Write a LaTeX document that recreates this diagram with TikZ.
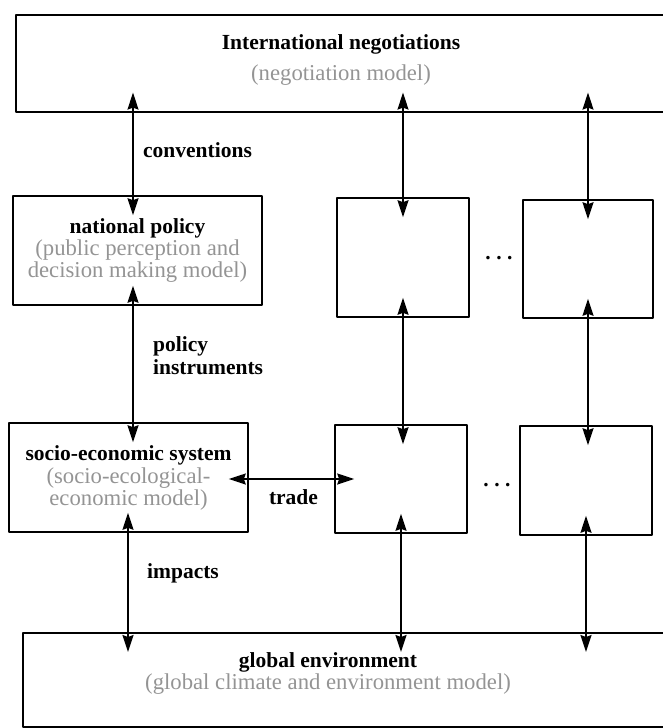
\documentclass[tikz,border=0pt]{standalone}
\usepackage{fontspec}
\setmainfont{Liberation Serif}
\usetikzlibrary{arrows.meta}
\definecolor{subgray}{gray}{0.58}
\newcommand{\headtxt}{\fontsize{21.5}{22}\selectfont\bfseries\color{black}}
\newcommand{\subtxt}{\fontsize{22.7}{22}\selectfont\mdseries\color{subgray}}
\tikzset{
  box/.style={draw,line width=1.6pt,inner sep=0pt},
  txt/.style={inner sep=0pt,align=center},
  lbl/.style={inner sep=0pt,font=\headtxt},
  link/.style={{Stealth[length=17pt,width=11pt,inset=2pt]}-{Stealth[length=17pt,width=11pt,inset=2pt]},line width=1.6pt,shorten <=-20pt,shorten >=-20pt},
}
\begin{document}
\begin{tikzpicture}[x=1pt,y=-1pt,line join=round]
\useasboundingbox (0,0) rectangle (662,728);
% top and bottom boxes
\node[box,minimum width=660pt,minimum height=97pt,anchor=north west] (intl) at (15,14) {};
\node[txt] (intltxt) at (341,60) {\headtxt International negotiations\\[10pt]\subtxt (negotiation model)};
\node[box,minimum width=660pt,minimum height=94pt,anchor=north west] (env) at (22,632) {};
\node[txt] (envtxt) at (328,673.5) {\headtxt global environment\\[1pt]\subtxt (global climate and environment model)};
% national level
\node[box,txt,minimum width=249pt,minimum height=109pt] (np) at (137.5,250.5) {\headtxt national policy\\[1pt]\subtxt (public perception and\\\subtxt decision making model)};
\node[box,minimum width=132pt,minimum height=119pt] (mid1) at (403,257.5) {};
\node[box,minimum width=130pt,minimum height=118pt] (right1) at (588,259) {};
\node[box,txt,minimum width=239pt,minimum height=109pt] (se) at (128.5,477.5) {\headtxt socio-economic system\\[2pt]\subtxt (socio-ecological-\\\subtxt economic model)};
\node[box,minimum width=132pt,minimum height=108pt] (mid2) at (401,479) {};
\node[box,minimum width=132pt,minimum height=109pt] (right2) at (586,480.5) {};
\node[lbl] (dots1) at (499,258) {.\hspace{5.5pt}.\hspace{5.5pt}.};
\node[lbl] (dots2) at (497,485) {.\hspace{5.5pt}.\hspace{5.5pt}.};
% links
\coordinate (npcol) at ([xshift=-4.5pt]np.north);
\coordinate (secol) at ([xshift=-0.5pt]se.south);
\coordinate (serow) at ([yshift=-1.5pt]se.east);
\draw[link] (npcol |- intl.south) -- (npcol);
\draw[link] (mid1.north |- intl.south) -- (mid1.north);
\draw[link] (right1.north |- intl.south) -- (right1.north);
\draw[link] (npcol |- np.south) -- (npcol |- se.north);
\draw[link] (mid1.south) -- (mid1.south |- mid2.north);
\draw[link] (right1.south) -- (right1.south |- right2.north);
\draw[link] (secol) -- (secol |- env.north);
\draw[link] (mid2.south) -- (mid2.south |- env.north);
\draw[link] (right2.south) -- (right2.south |- env.north);
\draw[link] (serow) -- (serow -| mid2.west);
% labels
\node[lbl,anchor=west] (conv) at (143,150) {conventions};
\node[lbl,anchor=west,align=left] (instr) at (153,356) {policy\\[1pt]instruments};
\node[lbl] (trd) at (293.5,497) {trade};
\node[lbl,anchor=west] (imp) at (147,573) {impacts};
\end{tikzpicture}
\end{document}
